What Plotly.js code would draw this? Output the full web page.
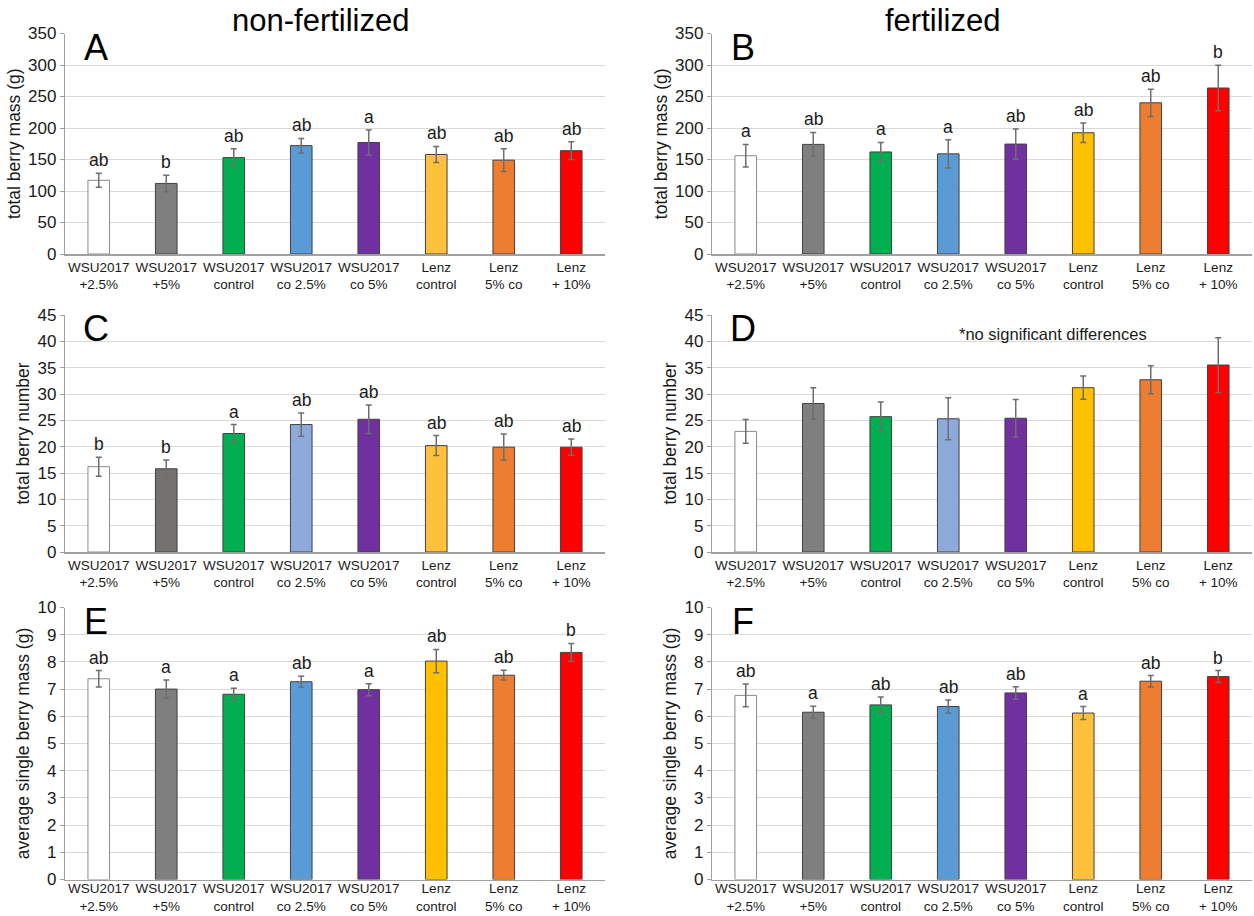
<!DOCTYPE html>
<html>
<head>
<meta charset="utf-8">
<script src="https://cdn.plot.ly/plotly-3.0.1.min.js"></script>
<style>
  html, body { margin: 0; padding: 0; background: #ffffff; }
  #chart { width: 1254px; height: 916px; }
</style>
</head>
<body>
<div id="chart"></div>
<script>
// ---------- data ----------
const categories = [
  "WSU2017<br>+2.5%", "WSU2017<br>+5%", "WSU2017<br>control", "WSU2017<br>co 2.5%",
  "WSU2017<br>co 5%", "Lenz<br>control", "Lenz<br>5% co", "Lenz<br>+ 10%"
];

// A: total berry mass (g), non-fertilized
const massNonFert = [117, 112, 153, 172, 177, 158, 149, 164];
const massNonFertErr = [11, 13, 14, 11.5, 20, 12.7, 18, 14];
const massNonFertLetters = ["ab", "b", "ab", "ab", "a", "ab", "ab", "ab"];

// B: total berry mass (g), fertilized
const massFert = [156, 174, 162, 159, 174.5, 192.5, 240, 263.5];
const massFertErr = [18, 19, 15, 22.5, 24, 15.4, 21.7, 36];
const massFertLetters = ["a", "ab", "a", "a", "ab", "ab", "ab", "b"];

// C: total berry number, non-fertilized
const numNonFert = [16.2, 15.8, 22.5, 24.2, 25.2, 20.2, 19.9, 19.9];
const numNonFertErr = [1.8, 1.65, 1.7, 2.2, 2.7, 1.9, 2.5, 1.55];
const numNonFertLetters = ["b", "b", "a", "ab", "ab", "ab", "ab", "ab"];

// D: total berry number, fertilized
const numFert = [22.9, 28.2, 25.7, 25.3, 25.4, 31.2, 32.7, 35.5];
const numFertErr = [2.25, 3, 2.8, 4, 3.55, 2.2, 2.65, 5.2];
const numFertNote = "*no significant differences";

// E: average single berry mass (g), non-fertilized
const avgNonFert = [7.38, 7.0, 6.81, 7.27, 6.98, 8.03, 7.51, 8.35];
const avgNonFertErr = [0.3, 0.33, 0.22, 0.2, 0.22, 0.43, 0.18, 0.33];
const avgNonFertLetters = ["ab", "a", "a", "ab", "a", "ab", "ab", "b"];

// F: average single berry mass (g), fertilized
const avgFert = [6.77, 6.15, 6.42, 6.36, 6.86, 6.12, 7.29, 7.46];
const avgFertErr = [0.42, 0.22, 0.29, 0.24, 0.23, 0.24, 0.21, 0.22];
const avgFertLetters = ["ab", "a", "ab", "ab", "ab", "a", "ab", "b"];

const panelLetters = ["A", "B", "C", "D", "E", "F"];
const columnTitles = ["non-fertilized", "fertilized"];
const yTitles = ["total berry mass (g)", "total berry number", "average single berry mass (g)"];

// ---------- styles ----------
const colorsA = ["#ffffff", "#7f7f7f", "#00b050", "#5b9bd5", "#7030a0", "#ffc13b", "#ed7d31", "#ff0000"];
const colorsB = ["#ffffff", "#7f7f7f", "#00b050", "#5b9bd5", "#7030a0", "#ffc000", "#ed7d31", "#ff0000"];
const colorsC = ["#ffffff", "#767171", "#00b050", "#8eaadb", "#7030a0", "#ffc13b", "#ed7d31", "#ff0000"];
const colorsD = ["#ffffff", "#7f7f7f", "#00b050", "#8eaadb", "#7030a0", "#ffc000", "#ed7d31", "#ff0000"];
const colorsE = ["#ffffff", "#7f7f7f", "#00b050", "#5b9bd5", "#7030a0", "#ffc000", "#ed7d31", "#ff0000"];
const colorsF = ["#ffffff", "#7f7f7f", "#00b050", "#5b9bd5", "#7030a0", "#ffc13b", "#ed7d31", "#ff0000"];
const lineColors = ["#8a8a8a", "#404040", "#404040", "#404040", "#404040", "#404040", "#404040", "#404040"];

const FONT = "Liberation Sans, Arial, sans-serif";
const W = 1254, H = 916;

const panels = [
  {vals: massNonFert, errs: massNonFertErr, letters: massNonFertLetters, colors: colorsA, range: [0, 350], dtick: 50, row: 0, col: 0},
  {vals: massFert, errs: massFertErr, letters: massFertLetters, colors: colorsB, range: [0, 350], dtick: 50, row: 0, col: 1},
  {vals: numNonFert, errs: numNonFertErr, letters: numNonFertLetters, colors: colorsC, range: [0, 45], dtick: 5, row: 1, col: 0},
  {vals: numFert, errs: numFertErr, letters: null, colors: colorsD, range: [0, 45], dtick: 5, row: 1, col: 1},
  {vals: avgNonFert, errs: avgNonFertErr, letters: avgNonFertLetters, colors: colorsE, range: [0, 10], dtick: 1, row: 2, col: 0},
  {vals: avgFert, errs: avgFertErr, letters: avgFertLetters, colors: colorsF, range: [0, 10], dtick: 1, row: 2, col: 1}
];

// pixel boxes of plot areas
const colX = [[65, 605], [712, 1252]];
const rowY = [[33.5, 254], [315, 552], [607.5, 879.5]];

const data = [];
const layout = {
  width: W, height: H,
  margin: {l: 0, r: 0, t: 0, b: 0},
  paper_bgcolor: "#ffffff",
  plot_bgcolor: "#ffffff",
  showlegend: false,
  bargap: 0.68,
  font: {family: FONT, color: "#1a1a1a"},
  annotations: []
};

panels.forEach((p, i) => {
  const n = i + 1;
  const xa = "x" + (n === 1 ? "" : n);
  const ya = "y" + (n === 1 ? "" : n);
  data.push({
    type: "bar",
    x: categories,
    y: p.vals,
    xaxis: xa, yaxis: ya,
    marker: {color: p.colors, line: {color: lineColors, width: 1}},
    error_y: {type: "data", array: p.errs, visible: true, color: "#6e6e6e", thickness: 1.5, width: 3},
    hoverinfo: "x+y"
  });
  const cx = colX[p.col], ry = rowY[p.row];
  layout["xaxis" + (n === 1 ? "" : n)] = {
    domain: [cx[0] / W, cx[1] / W],
    anchor: ya,
    type: "category",
    range: [-0.5, 7.5],
    showline: true, linecolor: "#a0a0a0", linewidth: 1.5,
    ticks: "", showgrid: false, zeroline: false,
    tickfont: {family: FONT, size: 13.5, color: "#1a1a1a"},
    ticklabelstandoff: p.row === 2 ? -4 : 0,
    tickangle: 0,
    fixedrange: true
  };
  layout["yaxis" + (n === 1 ? "" : n)] = {
    domain: [1 - ry[1] / H, 1 - ry[0] / H],
    anchor: xa,
    range: p.range, dtick: p.dtick,
    showgrid: true, gridcolor: "#d9d9d9", gridwidth: 1,
    showline: true, linecolor: "#a0a0a0", linewidth: 1.2,
    ticks: "outside", ticklen: 4, tickcolor: "#a0a0a0",
    zeroline: false,
    tickfont: {family: FONT, size: 17, color: "#1a1a1a"},
    title: {text: yTitles[p.row], font: {family: FONT, size: 17.5, color: "#1a1a1a"}, standoff: 3},
    fixedrange: true
  };
  // panel letter
  layout.annotations.push({
    xref: "paper", yref: "paper",
    x: (cx[0] + 31) / W, y: 1 - (ry[0] + 14) / H,
    xanchor: "center", yanchor: "middle",
    text: panelLetters[i], showarrow: false,
    font: {family: FONT, size: 36, color: "#000000"}
  });
  // significance letters
  if (p.letters) {
    p.letters.forEach((t, k) => {
      layout.annotations.push({
        xref: xa, yref: ya,
        x: categories[k], y: p.vals[k] + p.errs[k],
        xanchor: "center", yanchor: "bottom", yshift: 1,
        text: t, showarrow: false,
        font: {family: FONT, size: 17.5, color: "#1a1a1a"}
      });
    });
  }
});

// note in panel D
layout.annotations.push({
  xref: "paper", yref: "paper",
  x: 1053 / W, y: 1 - 334 / H,
  xanchor: "center", yanchor: "middle",
  text: numFertNote, showarrow: false,
  font: {family: FONT, size: 16.5, color: "#1a1a1a"}
});

// column titles
layout.annotations.push({
  xref: "paper", yref: "paper", x: 320 / W, y: 1 - 20 / H,
  xanchor: "center", yanchor: "middle", text: columnTitles[0], showarrow: false,
  font: {family: FONT, size: 31, color: "#000000"}
});
layout.annotations.push({
  xref: "paper", yref: "paper", x: 943 / W, y: 1 - 20 / H,
  xanchor: "center", yanchor: "middle", text: columnTitles[1], showarrow: false,
  font: {family: FONT, size: 31, color: "#000000"}
});

Plotly.newPlot("chart", data, layout, {displayModeBar: false, staticPlot: true});
</script>
</body>
</html>
